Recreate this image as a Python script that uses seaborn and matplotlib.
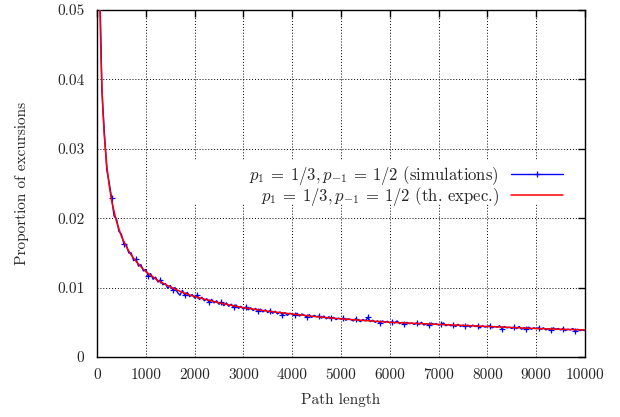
import numpy as np
import pandas as pd
import seaborn as sns
import matplotlib.pyplot as plt
from matplotlib.patches import Rectangle

# simulated proportion of excursions, path length every 50 (50..10000)
sim_len = np.arange(50, 10001, 50)
sim_prop = [
    0.0565, 0.0385, 0.0324, 0.0270, 0.0251, 0.0229, 0.0203, 0.0199, 0.0181, 0.0177,
    0.0163, 0.0162, 0.0150, 0.0150, 0.0139, 0.0141, 0.0131, 0.0133, 0.0124, 0.0126,
    0.0117, 0.0120, 0.0112, 0.0115, 0.0108, 0.0111, 0.0104, 0.0106, 0.0099, 0.0103,
    0.0097, 0.0100, 0.0093, 0.0089, 0.0096, 0.0089, 0.0093, 0.0087, 0.0090, 0.0085,
    0.0089, 0.0083, 0.0086, 0.0081, 0.0084, 0.0079, 0.0083, 0.0078, 0.0081, 0.0076,
    0.0079, 0.0074, 0.0078, 0.0073, 0.0076, 0.0072, 0.0075, 0.0070, 0.0073, 0.0069,
    0.0072, 0.0068, 0.0071, 0.0067, 0.0070, 0.0066, 0.0069, 0.0065, 0.0068, 0.0064,
    0.0067, 0.0063, 0.0066, 0.0062, 0.0065, 0.0061, 0.0064, 0.0060, 0.0063, 0.0062,
    0.0060, 0.0063, 0.0059, 0.0062, 0.0060, 0.0058, 0.0061, 0.0057, 0.0060, 0.0058,
    0.0059, 0.0056, 0.0059, 0.0055, 0.0058, 0.0056, 0.0057, 0.0054, 0.0056, 0.00545,
    0.0056, 0.0053, 0.0055, 0.0054, 0.0052, 0.0055, 0.0053, 0.0051, 0.0054, 0.0052,
    0.0057, 0.0051, 0.0053, 0.0050, 0.0052, 0.0049, 0.0052, 0.0050, 0.00515, 0.0049,
    0.0051, 0.0049, 0.0052, 0.0048, 0.0050, 0.0047, 0.0050, 0.0048, 0.0049, 0.0047,
    0.0049, 0.0047, 0.0050, 0.0046, 0.0048, 0.0046, 0.0049, 0.0047, 0.0048, 0.0046,
    0.0047, 0.0049, 0.0045, 0.0047, 0.0045, 0.0046, 0.0044, 0.0047, 0.0044, 0.0046,
    0.0044, 0.0046, 0.0043, 0.0046, 0.0044, 0.0045, 0.0042, 0.0045, 0.0043, 0.0044,
    0.0045, 0.0042, 0.0044, 0.0043, 0.0045, 0.0041, 0.0044, 0.0042, 0.0043, 0.0041,
    0.0043, 0.0041, 0.0044, 0.0040, 0.0042, 0.0041, 0.0043, 0.0040, 0.0042, 0.0041,
    0.0042, 0.0040, 0.0042, 0.0039, 0.0041, 0.0039, 0.0042, 0.0040, 0.0041, 0.0039,
    0.0041, 0.0038, 0.0040, 0.0039, 0.0041, 0.0038, 0.0040, 0.0038, 0.0039, 0.0038,
]

# theoretical expectation
th_len = [20, 30, 40, 50, 60, 70, 80, 100, 120, 150, 200, 250, 300, 400, 500, 600,
          700, 800, 900, 1000, 1250, 1500, 1750, 2000, 2500, 3000, 3500, 4000,
          4500, 5000, 6000, 7000, 8000, 9000, 10000]
th_prop = [0.0872, 0.0712, 0.0617, 0.0552, 0.0503, 0.0466, 0.0436, 0.0390, 0.0356,
           0.0318, 0.0276, 0.0247, 0.0225, 0.0195, 0.0174, 0.0159, 0.0147, 0.0138,
           0.0130, 0.0123, 0.0110, 0.0101, 0.0093, 0.0087, 0.0078, 0.0071, 0.0066,
           0.0062, 0.0058, 0.0055, 0.0050, 0.0047, 0.0044, 0.0041, 0.0039]

lbl_sim = r'$p_1\:=\:1/3,p_{-1}\:=\:1/2$ (simulations)'
lbl_th = r'$p_1\:=\:1/3,p_{-1}\:=\:1/2$ (th. expec.)'

xticks = [0, 1000, 2000, 3000, 4000, 5000, 6000, 7000, 8000, 9000, 10000]
xticklabels = ['0', '1000', '2000', '3000', '4000', '5000', '6000', '7000', '8000', '9000', '10000']
yticks = [0, 0.01, 0.02, 0.03, 0.04, 0.05]
yticklabels = ['0', '0.01', '0.02', '0.03', '0.04', '0.05']

sim = pd.DataFrame({'len': sim_len, 'prop': sim_prop})
th = pd.DataFrame({'len': th_len, 'prop': th_prop})

sns.set_style('white')
plt.rcParams['font.family'] = ['cmr10', 'DejaVu Serif']
plt.rcParams['mathtext.fontset'] = 'cm'
plt.rcParams['axes.formatter.use_mathtext'] = True
plt.rcParams['font.size'] = 11

fig = plt.figure(figsize=(6.2, 4.17), dpi=100)
ax = fig.add_axes([97 / 620, 60 / 417, 488 / 620, 347 / 417])

sns.lineplot(data=sim, x='len', y='prop', ax=ax, color='#0000ff', lw=1.0,
             marker='+', markersize=5, markeredgewidth=0.9,
             markeredgecolor='#0000ff', markevery=5,
             label=lbl_sim, zorder=3)
sns.lineplot(data=th, x='len', y='prop', ax=ax, color='#ff0000', lw=1.1,
             label=lbl_th, zorder=4)

ax.set_xlim(0, 10000)
ax.set_ylim(0, 0.05)
ax.set_xticks(xticks)
ax.set_xticklabels(xticklabels)
ax.set_yticks(yticks)
ax.set_yticklabels(yticklabels)
ax.tick_params(direction='in', length=5, width=1, top=True, right=True,
               labelsize=11, color='black')
ax.tick_params(axis='y', pad=9)
ax.tick_params(axis='x', pad=8)

ax.set_axisbelow(True)
ax.grid(True, color='black', linestyle=(0, (1, 2)), linewidth=0.7)
for s in ax.spines.values():
    s.set_color('black')
    s.set_linewidth(1.0)

ax.set_xlabel('Path length', fontsize=11)
ax.set_ylabel('Proportion of excursions', fontsize=11)
ax.xaxis.set_label_coords(0.5, -0.105)
ax.yaxis.set_label_coords(-0.14, 0.5)

# white key box hiding the grid, as gnuplot does
ax.add_patch(Rectangle((0.13, 0.444), 0.86, 0.124, transform=ax.transAxes,
                       facecolor='white', edgecolor='none', zorder=1))

ax.legend(loc='upper right', bbox_to_anchor=(0.955, 0.557), frameon=False,
          markerfirst=False, handlelength=3.1, handletextpad=0.75,
          labelspacing=-0.12, borderpad=0, borderaxespad=0, fontsize=12)

fig.savefig('out.png', dpi=100)
